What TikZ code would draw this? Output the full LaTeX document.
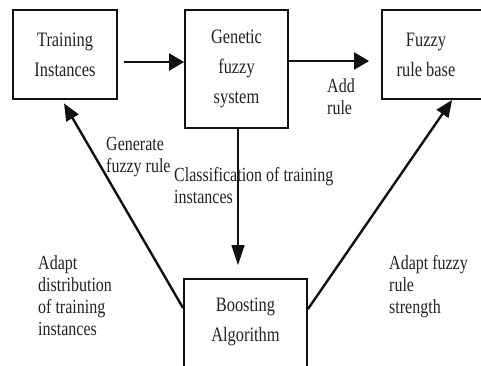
\documentclass[tikz,border=0pt]{standalone}
\usepackage{fontspec}
\setmainfont{Liberation Serif}[FakeStretch=0.8]
\usetikzlibrary{arrows.meta,calc}
\definecolor{ink}{HTML}{111111}
\definecolor{txt}{HTML}{222222}
\begin{document}
\begin{tikzpicture}[x=1pt,y=-1pt,
  box/.style={draw=ink, line width=1.8pt, rectangle, inner sep=0pt},
  boxtext/.style={text=txt, align=center, inner sep=0pt, font=\fontsize{20.5}{30}\selectfont},
  lbl/.style={text=txt, align=left, anchor=north west, inner sep=0pt, font=\fontsize{20}{22}\selectfont},
  arr/.style={draw=ink, line width=2.4pt, -{Triangle[length=15pt,width=17pt]}},
  diag/.style={draw=ink, line width=2.4pt, -{Triangle[length=17pt,width=14pt]}},
  down/.style={draw=ink, line width=1.5pt, -{Triangle[length=20pt,width=13pt]}},
]
\useasboundingbox (0,0) rectangle (481,365);
\begin{scope}
\clip (0,0) rectangle (481,365);
% boxes
\node[box, boxtext, minimum width=104pt, minimum height=89pt] (train) at (65,54.5) {Training\\Instances};
\node[box, boxtext, minimum width=103pt, minimum height=118pt] (gen) at (236.5,69) {Genetic\\fuzzy\\system};
\node[box, minimum width=110pt, minimum height=89pt] (fuzzy) at (437,54.5) {};
\node[boxtext] (fuzzytext) at (426,54.5) {Fuzzy\\rule base};
\node[box, minimum width=123pt, minimum height=110pt] (boost) at (245.5,334) {};
\node[boxtext] (boosttext) at (245.5,322) {Boosting\\Algorithm};

% connectors
\draw[arr, shorten <=6pt] ($(train.east)+(0,7.5)$) -- ($(gen.west)+(0,-7)$);
\draw[arr, shorten >=12pt] ($(gen.east)+(0,-8)$) -- ($(fuzzy.west)+(0,6.5)$);
\coordinate (gs) at ($(gen.south)+(1.5,0)$);
\draw[down, shorten >=13pt] (gs) -- (gs |- boost.north);
\draw[diag, shorten >=4pt] ($(boost.north west)+(0,30)$) -- ($(train.south)+(-3,0)$);
\draw[diag] ($(boost.north east)+(0,31)$) -- ($(fuzzy.south west)+(71,0)$);
\end{scope}

% labels
\node[lbl] (addrule) at (327,78) {Add\\rule};
\node[lbl] (generate) at (106,137) {Generate\\fuzzy rule};
\node[lbl] (classif) at (174,167) {Classification of training\\instances};
\node[lbl] (adaptdist) at (38,255) {Adapt\\distribution\\of training\\instances};
\node[lbl] (adaptstr) at (389,255) {Adapt fuzzy\\rule\\strength};
\end{tikzpicture}
\end{document}
